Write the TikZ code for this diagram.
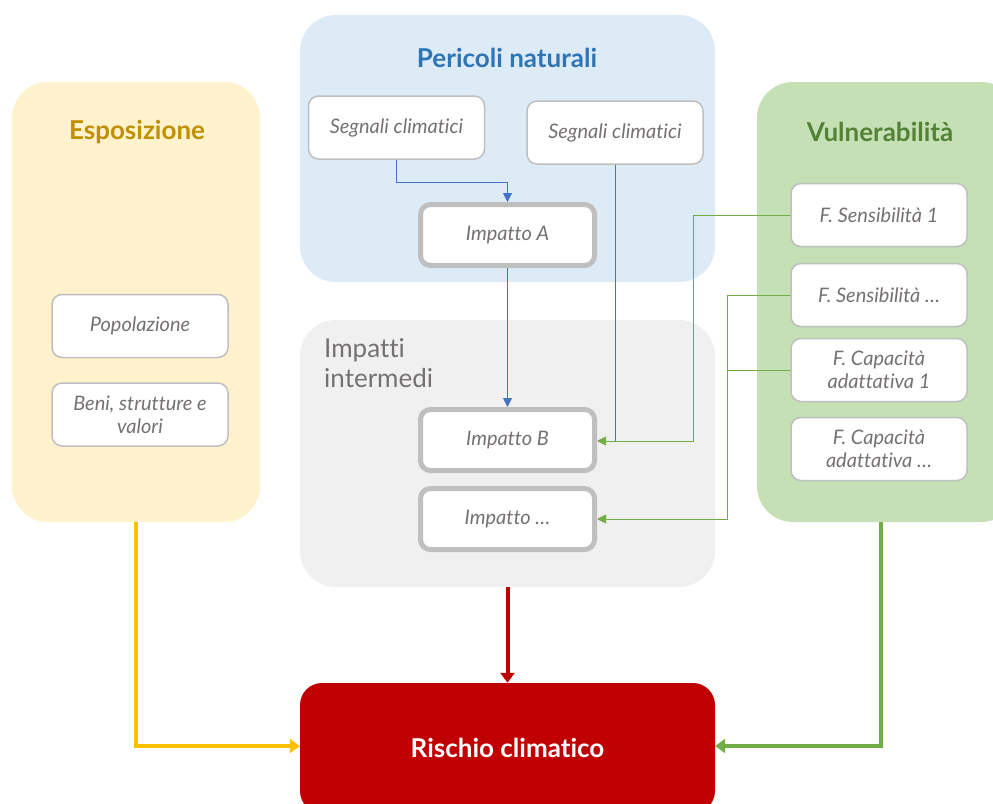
\documentclass[tikz,border=0pt]{standalone}
\usepackage{fontspec}
\setmainfont[Ligatures=NoCommon]{Lato}
\usetikzlibrary{arrows.meta,positioning}
\definecolor{yelpanel}{HTML}{FFF2CC}
\definecolor{bluepanel}{HTML}{DDEBF7}
\definecolor{graypanel}{HTML}{F0F0F0}
\definecolor{greenpanel}{HTML}{C5E0B4}
\definecolor{titleyel}{HTML}{BF9000}
\definecolor{titleblue}{HTML}{2E75B6}
\definecolor{titlegreen}{HTML}{548235}
\definecolor{boxtext}{HTML}{767171}
\definecolor{boxline}{HTML}{BFBFBF}
\definecolor{riskred}{HTML}{C00000}
\definecolor{lineblue}{HTML}{4472C4}
\definecolor{linegreen}{HTML}{70AD47}
\definecolor{lineyel}{HTML}{FFC000}
\tikzset{
  panel/.style={rectangle, rounded corners=36pt, inner sep=0pt, draw=none},
  smallbox/.style={rectangle, rounded corners=10pt, fill=white, draw=boxline, line width=1.5pt,
    minimum width=176pt, minimum height=63pt, inner sep=0pt, align=center,
    text=boxtext, font=\fontsize{20}{23}\selectfont\itshape},
  impbox/.style={smallbox, line width=5pt, minimum width=174pt, minimum height=61pt},
  ttl/.style={font=\fontsize{26}{30}\selectfont\bfseries},
  thin/.style={line width=1pt, -{Triangle[length=9pt,width=9pt]}},
  thick/.style={line width=4pt, -{Triangle[length=10pt,width=14pt]}},
}
\begin{document}
\begin{tikzpicture}[x=1pt,y=-1pt]
\useasboundingbox (0,0) rectangle (993,803);
% panels
\node[panel, fill=yelpanel, minimum width=248pt, minimum height=440pt] (expo) at (136,302) {};
\node[panel, fill=bluepanel, minimum width=415pt, minimum height=267pt] (peri) at (507.5,148.5) {};
\node[panel, fill=graypanel, minimum width=415pt, minimum height=267pt] (inter) at (507.5,453.5) {};
\node[panel, fill=greenpanel, minimum width=260pt, minimum height=440pt] (vuln) at (887,302) {};
\node[panel, fill=riskred, minimum width=415pt, minimum height=130pt, rounded corners=22pt,
  text=white, font=\fontsize{26}{30}\selectfont\bfseries] (risk) at (507.5,748) {Rischio climatico};
% titles
\node[ttl, text=titleyel] (texpo) at (137,132) {Esposizione};
\node[ttl, text=titleblue] (tperi) at (507,58) {Pericoli naturali};
\node[ttl, text=titlegreen] (tvuln) at (880,132) {Vulnerabilità};
\node[anchor=north west, align=left, text=boxtext, font=\fontsize{26}{30}\selectfont, inner sep=0pt] (tinter) at (324,338) {Impatti\\intermedi};
% small boxes
\node[smallbox] (seg1) at (396.5,127.5) {Segnali climatici};
\node[smallbox] (seg2) at (615,132.5) {Segnali climatici};
\node[impbox] (impA) at (507.5,235) {Impatto A};
\node[impbox] (impB) at (507.5,440) {Impatto B};
\node[impbox] (impX) at (507.5,519) {Impatto …};
\node[smallbox] (pop) at (140,326) {Popolazione};
\node[smallbox] (beni) at (140,414.5) {Beni, strutture e\\valori};
\node[smallbox] (fs1) at (879,215) {F. Sensibilità 1};
\node[smallbox] (fsx) at (879,295) {F. Sensibilità …};
\node[smallbox] (fc1) at (879,370) {F. Capacità\\adattativa 1};
\node[smallbox] (fcx) at (879,449) {F. Capacità\\adattativa …};
% coordinates
\coordinate (jB) at (615,441);
\coordinate (jV) at (727,370);
% blue connectors
\draw[thin, lineblue] (seg1.south) |- ++(0,23) -| (impA.north);
\draw[thin, lineblue] (impA.south) -- (impB.north);
\draw[line width=1pt, lineblue] (seg2.south) -- (jB);
% green connectors
\draw[thin, linegreen] (fs1.west) -| (693,441) -- (impB.east |- jB);
\draw[thin, linegreen] (fsx.west) -| (727,519) -- (impX.east |- 0,519);
\draw[line width=1pt, linegreen] (fc1.west) -- (jV);
% thick connectors
\draw[thick, lineyel] (expo.south) |- (risk.west |- 0,746);
\draw[thick, linegreen] (vuln.south -| 881,0) |- (risk.east |- 0,746);
\draw[thick, riskred] (inter.south) -- (risk.north);
\end{tikzpicture}
\end{document}
